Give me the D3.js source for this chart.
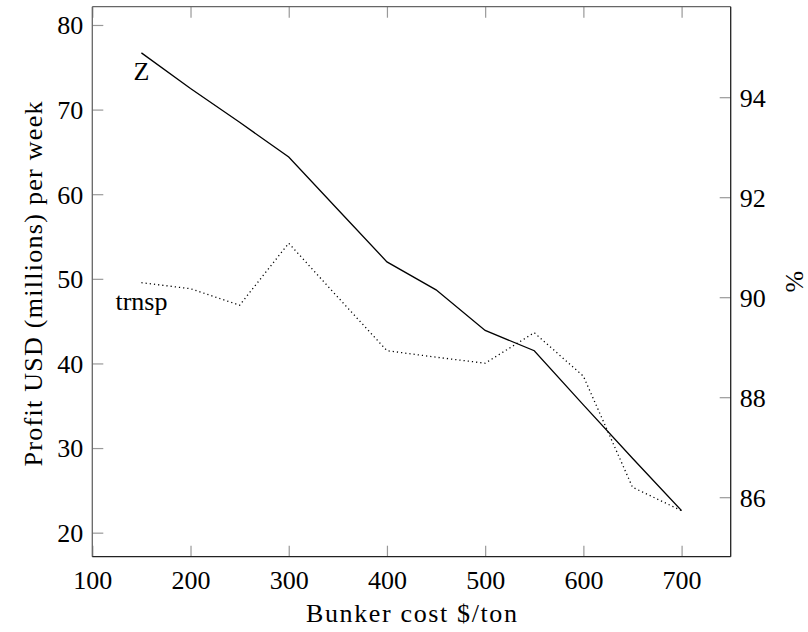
<!DOCTYPE html>
<html lang="en">
    <head>
        <meta charset="UTF-8" />
        <title>Profit and transport share vs bunker cost</title>
        <script src="https://d3js.org/d3.v7.min.js"></script>
        <style>
            body {
                margin: 0;
                padding: 0;
                background: #fff;
            }
            svg text {
                font-family: 'Liberation Serif', 'Times New Roman', serif;
                fill: #000;
            }
            .tick-label {
                font-size: 26px;
            }
            .axis-title {
                font-size: 26px;
            }
            .line {
                fill: none;
            }
            .line.profit {
                stroke: #000;
                stroke-width: 1.3px;
            }
            .line.trnsp {
                stroke: #000;
                stroke-width: 1.3px;
                stroke-dasharray: 1.2 3;
            }
        </style>
    </head>
    <body>
        <svg id="chart" width="808" height="632"></svg>

        <script>
            // values
            const bunkerCost = [150, 200, 250, 300, 350, 400, 450, 500, 550, 600, 650, 700];
            const profitZ = [76.7, 72.5, 68.5, 64.4, 58.2, 52.0, 48.7, 43.9, 41.5, 35.1, 28.8, 22.6];
            const trnspPct = [90.29, 90.17, 89.84, 91.08, 90.0, 88.93, 88.8, 88.68, 89.29, 88.42, 86.2, 85.73];

            const xTicks = [100, 200, 300, 400, 500, 600, 700];
            const leftTicks = [20, 30, 40, 50, 60, 70, 80];
            const rightTicks = [86, 88, 90, 92, 94];

            const svg = d3.select('#chart');
            const box = { left: 92.3, right: 730.7, top: 6.7, bottom: 556.7 };
            const tickLen = 11;

            const x = d3.scaleLinear().domain([100, 750]).range([box.left, box.right]);
            const yL = d3.scaleLinear().domain([17.16, 82.16]).range([box.bottom, box.top]);
            const yR = d3.scaleLinear().domain([84.81, 95.81]).range([box.bottom, box.top]);

            // ticks, drawn inward in grey like pgfplots
            const tickColor = '#999';
            const xAxisBottom = d3.axisBottom(x).tickValues(xTicks).tickSize(-tickLen).tickPadding(8);
            const gxb = svg.append('g').attr('transform', `translate(0,${box.bottom})`).call(xAxisBottom);
            const gxt = svg
                .append('g')
                .attr('transform', `translate(0,${box.top})`)
                .call(d3.axisTop(x).tickValues(xTicks).tickSize(-tickLen).tickFormat(''));
            const gyl = svg
                .append('g')
                .attr('transform', `translate(${box.left},0)`)
                .call(d3.axisLeft(yL).tickValues(leftTicks).tickSize(-tickLen).tickPadding(9));
            const gyr = svg
                .append('g')
                .attr('transform', `translate(${box.right},0)`)
                .call(d3.axisRight(yR).tickValues(rightTicks).tickSize(-tickLen).tickPadding(9));

            [gxb, gxt, gyl, gyr].forEach((g) => {
                g.select('.domain').remove();
                g.selectAll('.tick line').attr('stroke', tickColor).attr('stroke-width', 1.2);
                g.selectAll('.tick text')
                    .attr('class', 'tick-label')
                    .attr('font-family', null)
                    .attr('font-size', null);
            });
            gxb.selectAll('.tick text').attr('dy', '0.95em');
            gyl.selectAll('.tick text').attr('dy', '0.34em');
            gyr.selectAll('.tick text').attr('dy', '0.34em');

            // frame
            svg.append('line').attr('x1', box.left).attr('x2', box.right).attr('y1', box.top).attr('y2', box.top)
                .attr('stroke', '#666').attr('stroke-width', 1.3);
            svg.append('line').attr('x1', box.left).attr('x2', box.left).attr('y1', box.top).attr('y2', box.bottom)
                .attr('stroke', '#666').attr('stroke-width', 1.3);
            svg.append('line').attr('x1', box.left).attr('x2', box.right).attr('y1', box.bottom).attr('y2', box.bottom)
                .attr('stroke', '#222').attr('stroke-width', 1.3);
            svg.append('line').attr('x1', box.right).attr('x2', box.right).attr('y1', box.top).attr('y2', box.bottom)
                .attr('stroke', '#222').attr('stroke-width', 1.3);

            // series
            const profitData = bunkerCost.map((c, i) => ({ c, v: profitZ[i] }));
            const trnspData = bunkerCost.map((c, i) => ({ c, v: trnspPct[i] }));

            const lineL = d3.line().x((d) => x(d.c)).y((d) => yL(d.v));
            const lineR = d3.line().x((d) => x(d.c)).y((d) => yR(d.v));

            svg.append('path').datum(trnspData).attr('class', 'line trnsp').attr('d', lineR);
            svg.append('path').datum(profitData).attr('class', 'line profit').attr('d', lineL);

            // series labels under the first point
            svg.append('text')
                .attr('class', 'tick-label')
                .attr('x', x(profitData[0].c))
                .attr('y', yL(profitData[0].v) + 27)
                .attr('text-anchor', 'middle')
                .text('Z');
            svg.append('text')
                .attr('class', 'tick-label')
                .attr('x', x(trnspData[0].c))
                .attr('y', yR(trnspData[0].v) + 27)
                .attr('text-anchor', 'middle')
                .text('trnsp');

            // axis titles
            const serif = "'Liberation Serif', 'Times New Roman', serif";
            svg.append('text')
                .attr('class', 'axis-title')
                .attr('font-family', serif)
                .attr('x', (box.left + box.right) / 2)
                .attr('y', 622)
                .attr('text-anchor', 'middle')
                .attr('textLength', 211)
                .attr('lengthAdjust', 'spacing')
                .text('Bunker cost $/ton');
            svg.append('text')
                .attr('class', 'axis-title')
                .attr('font-family', serif)
                .attr('transform', `translate(41.5,284) rotate(-90)`)
                .attr('text-anchor', 'middle')
                .attr('textLength', 365)
                .attr('lengthAdjust', 'spacing')
                .text('Profit USD (millions) per week');
            svg.append('text')
                .attr('class', 'axis-title')
                .attr('font-family', serif)
                .attr('transform', `translate(803,${(box.top + box.bottom) / 2}) rotate(-90)`)
                .attr('text-anchor', 'middle')
                .text('%');
        </script>
    </body>
</html>
